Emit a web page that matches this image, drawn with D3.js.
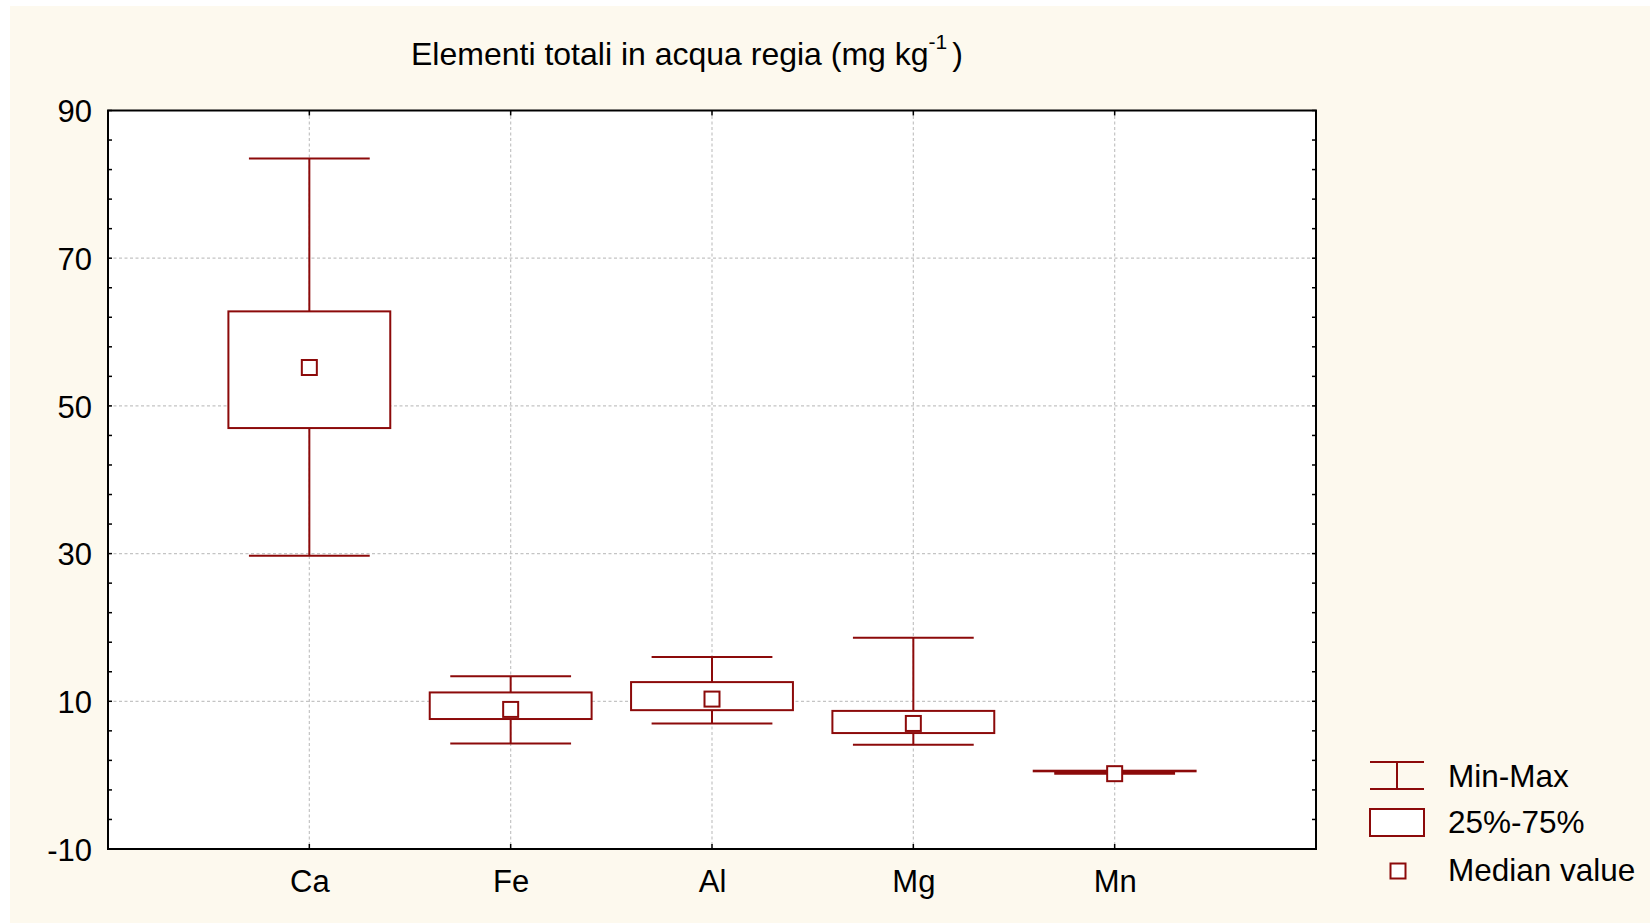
<!DOCTYPE html>
<html>
<head>
<meta charset="utf-8">
<script src="https://cdn.jsdelivr.net/npm/d3@7"></script>
<style>
  html, body { margin: 0; padding: 0; background: #ffffff; }
  svg { display: block; font-family: "Liberation Sans", Arial, sans-serif; }
</style>
</head>
<body>
<script>
// Box plot data: total elements in aqua regia (mg/kg)
const categories   = ["Ca", "Fe", "Al", "Mg", "Mn"];
const minValues    = [29.7, 4.3, 7.0, 4.1, 0.2];
const q1Values     = [47.0, 7.6, 8.8, 5.7, 0.52];
const medianValues = [55.2, 8.9, 10.3, 7.0, 0.2];
const q3Values     = [62.8, 11.2, 12.6, 8.7, 0.6];
const maxValues    = [83.5, 13.4, 16.0, 18.6, 0.4];
const yTicks       = [-10, 10, 30, 50, 70, 90];
const legendLabels = ["Min-Max", "25%-75%", "Median value"];

const W = 1650, H = 923;
const plot = { left: 108, right: 1316, top: 110.5, bottom: 849 };
const RED = "#8c0a0a";
const GRID = "#c4c4c4";

const svg = d3.select("body").append("svg")
  .attr("width", W).attr("height", H);

// page background
svg.append("rect").attr("x", 0).attr("y", 0).attr("width", W).attr("height", H).attr("fill", "#ffffff");
svg.append("rect").attr("x", 10).attr("y", 6).attr("width", W - 10).attr("height", H - 6).attr("fill", "#fdf9ee");

// plot area
svg.append("rect")
  .attr("x", plot.left).attr("y", plot.top)
  .attr("width", plot.right - plot.left).attr("height", plot.bottom - plot.top)
  .attr("fill", "#ffffff");

const x = d3.scalePoint().domain(categories).range([plot.left, plot.right]).padding(1);
const y = d3.scaleLinear().domain([-10, 90]).range([plot.bottom, plot.top]);
const step = x.step();
const boxHalf = step * 0.402;
const whiskerHalf = step * 0.3;
const medSize = 15;

// grid lines
const grid = svg.append("g").attr("stroke", GRID).attr("stroke-width", 1.2).attr("stroke-dasharray", "3,2.5");
grid.selectAll("line.h").data(yTicks.filter(t => t > -10 && t < 90)).join("line")
  .attr("x1", plot.left).attr("x2", plot.right)
  .attr("y1", d => y(d)).attr("y2", d => y(d));
grid.selectAll("line.v").data(categories).join("line")
  .attr("x1", d => x(d)).attr("x2", d => x(d))
  .attr("y1", plot.top).attr("y2", plot.bottom);

// y tick marks (inside, both sides), every 4 units
const minorTicks = d3.range(-10, 90.001, 4);
const ticks = svg.append("g").attr("stroke", "#000").attr("stroke-width", 1.5);
ticks.selectAll("line.l").data(minorTicks).join("line")
  .attr("x1", plot.left).attr("x2", plot.left + 4)
  .attr("y1", d => y(d)).attr("y2", d => y(d));
ticks.selectAll("line.r").data(minorTicks).join("line")
  .attr("x1", plot.right).attr("x2", plot.right - 4)
  .attr("y1", d => y(d)).attr("y2", d => y(d));
ticks.selectAll("line.b").data(categories).join("line")
  .attr("x1", d => x(d)).attr("x2", d => x(d))
  .attr("y1", plot.bottom).attr("y2", plot.bottom - 5);
ticks.selectAll("line.t").data(categories).join("line")
  .attr("x1", d => x(d)).attr("x2", d => x(d))
  .attr("y1", plot.top).attr("y2", plot.top + 5);

// frame
svg.append("rect")
  .attr("x", plot.left).attr("y", plot.top)
  .attr("width", plot.right - plot.left).attr("height", plot.bottom - plot.top)
  .attr("fill", "none").attr("stroke", "#000").attr("stroke-width", 2);

// y axis labels
const yAxis = d3.axisLeft(y).tickValues(yTicks).tickSize(0).tickPadding(16).tickFormat(d => String(d));
const yg = svg.append("g").attr("transform", `translate(${plot.left},0)`).call(yAxis);
yg.select(".domain").remove();
yg.selectAll("text").attr("font-size", 31).attr("fill", "#000")
  .attr("font-family", "'Liberation Sans', Arial, sans-serif")
  .attr("dy", "0.36em");

// x axis labels
const xAxis = d3.axisBottom(x).tickSize(0).tickPadding(21);
const xg = svg.append("g").attr("transform", `translate(0,${plot.bottom})`).call(xAxis);
xg.select(".domain").remove();
xg.selectAll("text").attr("font-size", 31).attr("fill", "#000")
  .attr("font-family", "'Liberation Sans', Arial, sans-serif");

// boxes
const rows = categories.map((c, i) => ({
  c, min: minValues[i], q1: q1Values[i], med: medianValues[i], q3: q3Values[i], max: maxValues[i]
}));
const boxes = svg.append("g").attr("stroke", RED).attr("stroke-width", 2).attr("fill", "none");
const g = boxes.selectAll("g").data(rows).join("g");
// whisker stems
g.append("line").attr("x1", d => x(d.c)).attr("x2", d => x(d.c))
  .attr("y1", d => y(d.q3)).attr("y2", d => y(d.max));
g.append("line").attr("x1", d => x(d.c)).attr("x2", d => x(d.c))
  .attr("y1", d => y(d.q1)).attr("y2", d => y(d.min));
// whisker caps
g.append("line").attr("x1", d => x(d.c) - whiskerHalf).attr("x2", d => x(d.c) + whiskerHalf)
  .attr("y1", d => y(d.max)).attr("y2", d => y(d.max));
g.append("line").attr("x1", d => x(d.c) - whiskerHalf).attr("x2", d => x(d.c) + whiskerHalf)
  .attr("y1", d => y(d.min)).attr("y2", d => y(d.min));
// interquartile box
g.append("rect")
  .attr("x", d => x(d.c) - boxHalf).attr("width", boxHalf * 2)
  .attr("y", d => y(d.q3)).attr("height", d => Math.max(0.5, y(d.q1) - y(d.q3)))
  .attr("fill", "#ffffff");
// median marker
g.append("rect")
  .attr("x", d => x(d.c) - medSize / 2).attr("y", d => y(d.med) - medSize / 2)
  .attr("width", medSize).attr("height", medSize)
  .attr("fill", "#ffffff");

// title
const title = svg.append("text")
  .attr("x", 411).attr("y", 65)
  .attr("font-size", 32).attr("fill", "#000");
title.append("tspan").text("Elementi totali in acqua regia (mg kg");
title.append("tspan").attr("font-size", 21).attr("dy", -16).text("-1");
title.append("tspan").attr("dy", 16).attr("dx", 5).text(")");

// legend
const legend = svg.append("g");
const lx1 = 1370, lx2 = 1424, lcx = (lx1 + lx2) / 2;
const lg = legend.append("g").attr("stroke", RED).attr("stroke-width", 2).attr("fill", "none");
lg.append("line").attr("x1", lx1).attr("x2", lx2).attr("y1", 762).attr("y2", 762);
lg.append("line").attr("x1", lx1).attr("x2", lx2).attr("y1", 789).attr("y2", 789);
lg.append("line").attr("x1", lcx).attr("x2", lcx).attr("y1", 762).attr("y2", 789);
lg.append("rect").attr("x", lx1).attr("y", 809).attr("width", lx2 - lx1).attr("height", 27).attr("fill", "#ffffff");
lg.append("rect").attr("x", 1398 - medSize / 2).attr("y", 871 - medSize / 2)
  .attr("width", medSize).attr("height", medSize).attr("fill", "#ffffff");

const legendBaselines = [787, 833, 881];
legend.selectAll("text").data(legendLabels).join("text")
  .attr("x", 1448).attr("y", (d, i) => legendBaselines[i])
  .attr("font-size", 31.5).attr("fill", "#000")
  .text(d => d);
</script>
</body>
</html>
